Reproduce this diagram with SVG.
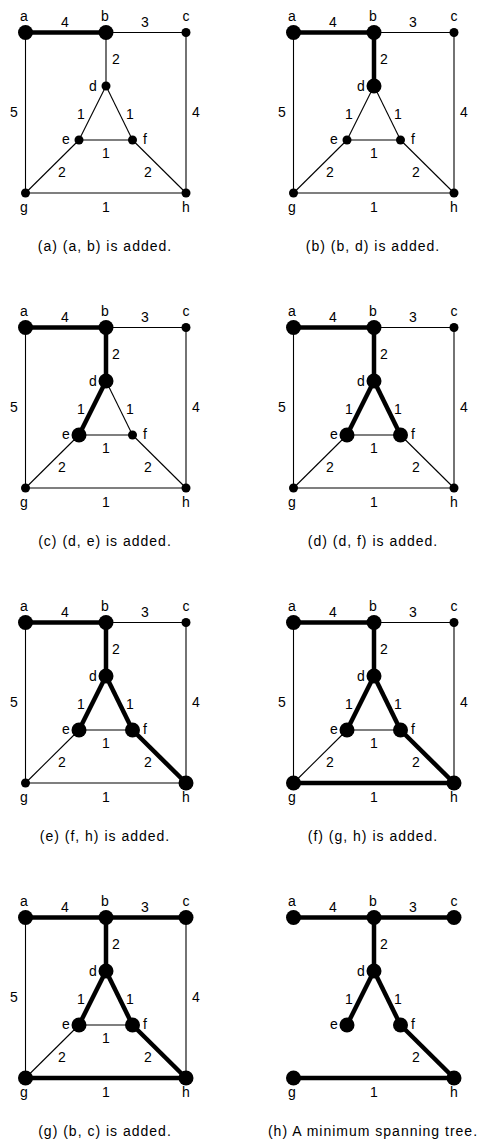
<svg xmlns="http://www.w3.org/2000/svg" width="485" height="1147" viewBox="0 0 485 1147">
<style>
.e{stroke:#000;stroke-width:1.1;fill:none}
.t{stroke:#000;stroke-width:4.5;fill:none}
.s{fill:#000}
text{font-family:"Liberation Sans",Arial,sans-serif;font-size:14px;fill:#000;text-anchor:middle}
.cap{letter-spacing:1px}
</style>
<rect width="485" height="1147" fill="#fff"/>

<!-- Panel (a) -->
<g id="panel-a" transform="translate(0,0)">
<g id="pa-edges">
<line class="e" x1="106" y1="32.5" x2="186" y2="32.5"/>
<line class="e" x1="25.5" y1="32.5" x2="25.5" y2="193"/>
<line class="e" x1="186" y1="32.5" x2="186" y2="193"/>
<line class="e" x1="106" y1="32.5" x2="106" y2="86"/>
<line class="e" x1="106" y1="86" x2="79" y2="140"/>
<line class="e" x1="106" y1="86" x2="132.5" y2="140"/>
<line class="e" x1="79" y1="140" x2="132.5" y2="140"/>
<line class="e" x1="79" y1="140" x2="25.5" y2="193"/>
<line class="e" x1="132.5" y1="140" x2="186" y2="193"/>
<line class="e" x1="25.5" y1="193" x2="186" y2="193"/>
<line class="t" x1="25.5" y1="32.5" x2="106" y2="32.5"/>
<text x="65" y="27">4</text><text x="145" y="27">3</text><text x="14" y="117">5</text><text x="196" y="117">4</text>
<text x="116" y="64">2</text><text x="81" y="118.5">1</text><text x="130" y="118.5">1</text><text x="106" y="158">1</text>
<text x="62" y="177">2</text><text x="148" y="177">2</text><text x="106" y="212">1</text>
</g>
<g id="pa-a"><circle class="s" cx="25.5" cy="32.5" r="7.5"/><text x="24" y="21">a</text></g>
<g id="pa-b"><circle class="s" cx="106" cy="32.5" r="7.5"/><text x="105" y="21">b</text></g>
<g id="pa-c"><circle class="s" cx="186" cy="32.5" r="4.5"/><text x="186" y="21">c</text></g>
<g id="pa-d"><circle class="s" cx="106" cy="86" r="4.5"/><text x="93" y="90.5">d</text></g>
<g id="pa-e"><circle class="s" cx="79" cy="140" r="4.5"/><text x="66" y="144">e</text></g>
<g id="pa-f"><circle class="s" cx="132.5" cy="140" r="4.5"/><text x="145" y="144">f</text></g>
<g id="pa-g"><circle class="s" cx="25.5" cy="193" r="4.5"/><text x="24" y="212">g</text></g>
<g id="pa-h"><circle class="s" cx="186" cy="193" r="4.5"/><text x="186" y="212">h</text></g>
<text class="cap" x="105" y="251">(a) (a, b) is added.</text>
</g>

<!-- Panel (b) -->
<g id="panel-b" transform="translate(268,0)">
<g id="pb-edges">
<line class="e" x1="106" y1="32.5" x2="186" y2="32.5"/>
<line class="e" x1="25.5" y1="32.5" x2="25.5" y2="193"/>
<line class="e" x1="186" y1="32.5" x2="186" y2="193"/>
<line class="e" x1="106" y1="86" x2="79" y2="140"/>
<line class="e" x1="106" y1="86" x2="132.5" y2="140"/>
<line class="e" x1="79" y1="140" x2="132.5" y2="140"/>
<line class="e" x1="79" y1="140" x2="25.5" y2="193"/>
<line class="e" x1="132.5" y1="140" x2="186" y2="193"/>
<line class="e" x1="25.5" y1="193" x2="186" y2="193"/>
<line class="t" x1="25.5" y1="32.5" x2="106" y2="32.5"/>
<line class="t" x1="106" y1="32.5" x2="106" y2="86"/>
<text x="65" y="27">4</text><text x="145" y="27">3</text><text x="14" y="117">5</text><text x="196" y="117">4</text>
<text x="116" y="64">2</text><text x="81" y="118.5">1</text><text x="130" y="118.5">1</text><text x="106" y="158">1</text>
<text x="62" y="177">2</text><text x="148" y="177">2</text><text x="106" y="212">1</text>
</g>
<g id="pb-a"><circle class="s" cx="25.5" cy="32.5" r="7.5"/><text x="24" y="21">a</text></g>
<g id="pb-b"><circle class="s" cx="106" cy="32.5" r="7.5"/><text x="105" y="21">b</text></g>
<g id="pb-c"><circle class="s" cx="186" cy="32.5" r="4.5"/><text x="186" y="21">c</text></g>
<g id="pb-d"><circle class="s" cx="106" cy="86" r="7.5"/><text x="93" y="90.5">d</text></g>
<g id="pb-e"><circle class="s" cx="79" cy="140" r="4.5"/><text x="66" y="144">e</text></g>
<g id="pb-f"><circle class="s" cx="132.5" cy="140" r="4.5"/><text x="145" y="144">f</text></g>
<g id="pb-g"><circle class="s" cx="25.5" cy="193" r="4.5"/><text x="24" y="212">g</text></g>
<g id="pb-h"><circle class="s" cx="186" cy="193" r="4.5"/><text x="186" y="212">h</text></g>
<text class="cap" x="105" y="251">(b) (b, d) is added.</text>
</g>

<!-- Panel (c) -->
<g id="panel-c" transform="translate(0,295)">
<g id="pc-edges">
<line class="e" x1="106" y1="32.5" x2="186" y2="32.5"/>
<line class="e" x1="25.5" y1="32.5" x2="25.5" y2="193"/>
<line class="e" x1="186" y1="32.5" x2="186" y2="193"/>
<line class="e" x1="106" y1="86" x2="132.5" y2="140"/>
<line class="e" x1="79" y1="140" x2="132.5" y2="140"/>
<line class="e" x1="79" y1="140" x2="25.5" y2="193"/>
<line class="e" x1="132.5" y1="140" x2="186" y2="193"/>
<line class="e" x1="25.5" y1="193" x2="186" y2="193"/>
<line class="t" x1="25.5" y1="32.5" x2="106" y2="32.5"/>
<line class="t" x1="106" y1="32.5" x2="106" y2="86"/>
<line class="t" x1="106" y1="86" x2="79" y2="140"/>
<text x="65" y="27">4</text><text x="145" y="27">3</text><text x="14" y="117">5</text><text x="196" y="117">4</text>
<text x="116" y="64">2</text><text x="81" y="118.5">1</text><text x="130" y="118.5">1</text><text x="106" y="158">1</text>
<text x="62" y="177">2</text><text x="148" y="177">2</text><text x="106" y="212">1</text>
</g>
<g id="pc-a"><circle class="s" cx="25.5" cy="32.5" r="7.5"/><text x="24" y="21">a</text></g>
<g id="pc-b"><circle class="s" cx="106" cy="32.5" r="7.5"/><text x="105" y="21">b</text></g>
<g id="pc-c"><circle class="s" cx="186" cy="32.5" r="4.5"/><text x="186" y="21">c</text></g>
<g id="pc-d"><circle class="s" cx="106" cy="86" r="7.5"/><text x="93" y="90.5">d</text></g>
<g id="pc-e"><circle class="s" cx="79" cy="140" r="7.5"/><text x="66" y="144">e</text></g>
<g id="pc-f"><circle class="s" cx="132.5" cy="140" r="4.5"/><text x="145" y="144">f</text></g>
<g id="pc-g"><circle class="s" cx="25.5" cy="193" r="4.5"/><text x="24" y="212">g</text></g>
<g id="pc-h"><circle class="s" cx="186" cy="193" r="4.5"/><text x="186" y="212">h</text></g>
<text class="cap" x="105" y="251">(c) (d, e) is added.</text>
</g>

<!-- Panel (d) -->
<g id="panel-d" transform="translate(268,295)">
<g id="pd-edges">
<line class="e" x1="106" y1="32.5" x2="186" y2="32.5"/>
<line class="e" x1="25.5" y1="32.5" x2="25.5" y2="193"/>
<line class="e" x1="186" y1="32.5" x2="186" y2="193"/>
<line class="e" x1="79" y1="140" x2="132.5" y2="140"/>
<line class="e" x1="79" y1="140" x2="25.5" y2="193"/>
<line class="e" x1="132.5" y1="140" x2="186" y2="193"/>
<line class="e" x1="25.5" y1="193" x2="186" y2="193"/>
<line class="t" x1="25.5" y1="32.5" x2="106" y2="32.5"/>
<line class="t" x1="106" y1="32.5" x2="106" y2="86"/>
<line class="t" x1="106" y1="86" x2="79" y2="140"/>
<line class="t" x1="106" y1="86" x2="132.5" y2="140"/>
<text x="65" y="27">4</text><text x="145" y="27">3</text><text x="14" y="117">5</text><text x="196" y="117">4</text>
<text x="116" y="64">2</text><text x="81" y="118.5">1</text><text x="130" y="118.5">1</text><text x="106" y="158">1</text>
<text x="62" y="177">2</text><text x="148" y="177">2</text><text x="106" y="212">1</text>
</g>
<g id="pd-a"><circle class="s" cx="25.5" cy="32.5" r="7.5"/><text x="24" y="21">a</text></g>
<g id="pd-b"><circle class="s" cx="106" cy="32.5" r="7.5"/><text x="105" y="21">b</text></g>
<g id="pd-c"><circle class="s" cx="186" cy="32.5" r="4.5"/><text x="186" y="21">c</text></g>
<g id="pd-d"><circle class="s" cx="106" cy="86" r="7.5"/><text x="93" y="90.5">d</text></g>
<g id="pd-e"><circle class="s" cx="79" cy="140" r="7.5"/><text x="66" y="144">e</text></g>
<g id="pd-f"><circle class="s" cx="132.5" cy="140" r="7.5"/><text x="145" y="144">f</text></g>
<g id="pd-g"><circle class="s" cx="25.5" cy="193" r="4.5"/><text x="24" y="212">g</text></g>
<g id="pd-h"><circle class="s" cx="186" cy="193" r="4.5"/><text x="186" y="212">h</text></g>
<text class="cap" x="105" y="251">(d) (d, f) is added.</text>
</g>

<!-- Panel (e) -->
<g id="panel-e" transform="translate(0,590)">
<g id="pe-edges">
<line class="e" x1="106" y1="32.5" x2="186" y2="32.5"/>
<line class="e" x1="25.5" y1="32.5" x2="25.5" y2="193"/>
<line class="e" x1="186" y1="32.5" x2="186" y2="193"/>
<line class="e" x1="79" y1="140" x2="132.5" y2="140"/>
<line class="e" x1="79" y1="140" x2="25.5" y2="193"/>
<line class="e" x1="25.5" y1="193" x2="186" y2="193"/>
<line class="t" x1="25.5" y1="32.5" x2="106" y2="32.5"/>
<line class="t" x1="106" y1="32.5" x2="106" y2="86"/>
<line class="t" x1="106" y1="86" x2="79" y2="140"/>
<line class="t" x1="106" y1="86" x2="132.5" y2="140"/>
<line class="t" x1="132.5" y1="140" x2="186" y2="193"/>
<text x="65" y="27">4</text><text x="145" y="27">3</text><text x="14" y="117">5</text><text x="196" y="117">4</text>
<text x="116" y="64">2</text><text x="81" y="118.5">1</text><text x="130" y="118.5">1</text><text x="106" y="158">1</text>
<text x="62" y="177">2</text><text x="148" y="177">2</text><text x="106" y="212">1</text>
</g>
<g id="pe-a"><circle class="s" cx="25.5" cy="32.5" r="7.5"/><text x="24" y="21">a</text></g>
<g id="pe-b"><circle class="s" cx="106" cy="32.5" r="7.5"/><text x="105" y="21">b</text></g>
<g id="pe-c"><circle class="s" cx="186" cy="32.5" r="4.5"/><text x="186" y="21">c</text></g>
<g id="pe-d"><circle class="s" cx="106" cy="86" r="7.5"/><text x="93" y="90.5">d</text></g>
<g id="pe-e"><circle class="s" cx="79" cy="140" r="7.5"/><text x="66" y="144">e</text></g>
<g id="pe-f"><circle class="s" cx="132.5" cy="140" r="7.5"/><text x="145" y="144">f</text></g>
<g id="pe-g"><circle class="s" cx="25.5" cy="193" r="4.5"/><text x="24" y="212">g</text></g>
<g id="pe-h"><circle class="s" cx="186" cy="193" r="7.5"/><text x="186" y="212">h</text></g>
<text class="cap" x="105" y="251">(e) (f, h) is added.</text>
</g>

<!-- Panel (f) -->
<g id="panel-f" transform="translate(268,590)">
<g id="pf-edges">
<line class="e" x1="106" y1="32.5" x2="186" y2="32.5"/>
<line class="e" x1="25.5" y1="32.5" x2="25.5" y2="193"/>
<line class="e" x1="186" y1="32.5" x2="186" y2="193"/>
<line class="e" x1="79" y1="140" x2="132.5" y2="140"/>
<line class="e" x1="79" y1="140" x2="25.5" y2="193"/>
<line class="t" x1="25.5" y1="32.5" x2="106" y2="32.5"/>
<line class="t" x1="106" y1="32.5" x2="106" y2="86"/>
<line class="t" x1="106" y1="86" x2="79" y2="140"/>
<line class="t" x1="106" y1="86" x2="132.5" y2="140"/>
<line class="t" x1="132.5" y1="140" x2="186" y2="193"/>
<line class="t" x1="25.5" y1="193" x2="186" y2="193"/>
<text x="65" y="27">4</text><text x="145" y="27">3</text><text x="14" y="117">5</text><text x="196" y="117">4</text>
<text x="116" y="64">2</text><text x="81" y="118.5">1</text><text x="130" y="118.5">1</text><text x="106" y="158">1</text>
<text x="62" y="177">2</text><text x="148" y="177">2</text><text x="106" y="212">1</text>
</g>
<g id="pf-a"><circle class="s" cx="25.5" cy="32.5" r="7.5"/><text x="24" y="21">a</text></g>
<g id="pf-b"><circle class="s" cx="106" cy="32.5" r="7.5"/><text x="105" y="21">b</text></g>
<g id="pf-c"><circle class="s" cx="186" cy="32.5" r="4.5"/><text x="186" y="21">c</text></g>
<g id="pf-d"><circle class="s" cx="106" cy="86" r="7.5"/><text x="93" y="90.5">d</text></g>
<g id="pf-e"><circle class="s" cx="79" cy="140" r="7.5"/><text x="66" y="144">e</text></g>
<g id="pf-f"><circle class="s" cx="132.5" cy="140" r="7.5"/><text x="145" y="144">f</text></g>
<g id="pf-g"><circle class="s" cx="25.5" cy="193" r="7.5"/><text x="24" y="212">g</text></g>
<g id="pf-h"><circle class="s" cx="186" cy="193" r="7.5"/><text x="186" y="212">h</text></g>
<text class="cap" x="105" y="251">(f) (g, h) is added.</text>
</g>

<!-- Panel (g) -->
<g id="panel-g" transform="translate(0,885)">
<g id="pg-edges">
<line class="e" x1="25.5" y1="32.5" x2="25.5" y2="193"/>
<line class="e" x1="186" y1="32.5" x2="186" y2="193"/>
<line class="e" x1="79" y1="140" x2="132.5" y2="140"/>
<line class="e" x1="79" y1="140" x2="25.5" y2="193"/>
<line class="t" x1="25.5" y1="32.5" x2="186" y2="32.5"/>
<line class="t" x1="106" y1="32.5" x2="106" y2="86"/>
<line class="t" x1="106" y1="86" x2="79" y2="140"/>
<line class="t" x1="106" y1="86" x2="132.5" y2="140"/>
<line class="t" x1="132.5" y1="140" x2="186" y2="193"/>
<line class="t" x1="25.5" y1="193" x2="186" y2="193"/>
<text x="65" y="27">4</text><text x="145" y="27">3</text><text x="14" y="117">5</text><text x="196" y="117">4</text>
<text x="116" y="64">2</text><text x="81" y="118.5">1</text><text x="130" y="118.5">1</text><text x="106" y="158">1</text>
<text x="62" y="177">2</text><text x="148" y="177">2</text><text x="106" y="212">1</text>
</g>
<g id="pg-a"><circle class="s" cx="25.5" cy="32.5" r="7.5"/><text x="24" y="21">a</text></g>
<g id="pg-b"><circle class="s" cx="106" cy="32.5" r="7.5"/><text x="105" y="21">b</text></g>
<g id="pg-c"><circle class="s" cx="186" cy="32.5" r="7.5"/><text x="186" y="21">c</text></g>
<g id="pg-d"><circle class="s" cx="106" cy="86" r="7.5"/><text x="93" y="90.5">d</text></g>
<g id="pg-e"><circle class="s" cx="79" cy="140" r="7.5"/><text x="66" y="144">e</text></g>
<g id="pg-f"><circle class="s" cx="132.5" cy="140" r="7.5"/><text x="145" y="144">f</text></g>
<g id="pg-g"><circle class="s" cx="25.5" cy="193" r="7.5"/><text x="24" y="212">g</text></g>
<g id="pg-h"><circle class="s" cx="186" cy="193" r="7.5"/><text x="186" y="212">h</text></g>
<text class="cap" x="105" y="251">(g) (b, c) is added.</text>
</g>

<!-- Panel (h) -->
<g id="panel-h" transform="translate(268,885)">
<g id="ph-edges">
<line class="t" x1="25.5" y1="32.5" x2="186" y2="32.5"/>
<line class="t" x1="106" y1="32.5" x2="106" y2="86"/>
<line class="t" x1="106" y1="86" x2="79" y2="140"/>
<line class="t" x1="106" y1="86" x2="132.5" y2="140"/>
<line class="t" x1="132.5" y1="140" x2="186" y2="193"/>
<line class="t" x1="25.5" y1="193" x2="186" y2="193"/>
<text x="65" y="27">4</text><text x="145" y="27">3</text>
<text x="116" y="64">2</text><text x="81" y="118.5">1</text><text x="130" y="118.5">1</text>
<text x="148" y="177">2</text><text x="106" y="212">1</text>
</g>
<g id="ph-a"><circle class="s" cx="25.5" cy="32.5" r="7.5"/><text x="24" y="21">a</text></g>
<g id="ph-b"><circle class="s" cx="106" cy="32.5" r="7.5"/><text x="105" y="21">b</text></g>
<g id="ph-c"><circle class="s" cx="186" cy="32.5" r="7.5"/><text x="186" y="21">c</text></g>
<g id="ph-d"><circle class="s" cx="106" cy="86" r="7.5"/><text x="93" y="90.5">d</text></g>
<g id="ph-e"><circle class="s" cx="79" cy="140" r="7.5"/><text x="66" y="144">e</text></g>
<g id="ph-f"><circle class="s" cx="132.5" cy="140" r="7.5"/><text x="145" y="144">f</text></g>
<g id="ph-g"><circle class="s" cx="25.5" cy="193" r="7.5"/><text x="24" y="212">g</text></g>
<g id="ph-h"><circle class="s" cx="186" cy="193" r="7.5"/><text x="186" y="212">h</text></g>
<text class="cap" x="105" y="251">(h) A minimum spanning tree.</text>
</g>
</svg>
